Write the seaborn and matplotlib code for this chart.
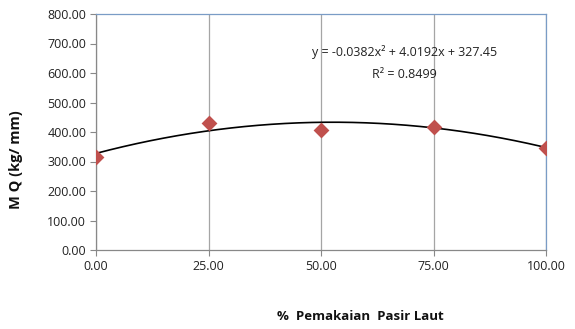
import numpy as np
import pandas as pd
import matplotlib
matplotlib.use("Agg")
import matplotlib.pyplot as plt
import seaborn as sns

# Measured values
pasir_laut = [0, 25, 50, 75, 100]
mq = [315, 432, 407, 417, 347]

# Polynomial trendline coefficients (a*x^2 + b*x + c) and fit quality
trend_coef = [-0.0382, 4.0192, 327.45]
r_squared = 0.8499

x_ticks = [0, 25, 50, 75, 100]
y_ticks = [0, 100, 200, 300, 400, 500, 600, 700, 800]

sns.set_theme(style="white")
plt.rcParams["font.family"] = ["Open Sans", "DejaVu Sans"]

fig = plt.figure(figsize=(5.75, 3.29), dpi=100)
ax = fig.add_axes([96 / 575, 1 - 250 / 329, 450 / 575, 236 / 329])

df = pd.DataFrame({"x": pasir_laut, "y": mq})
xs = np.linspace(0, 100, 201)
trend = pd.DataFrame({"x": xs, "y": np.polyval(trend_coef, xs)})

sns.lineplot(data=trend, x="x", y="y", ax=ax, color="black", linewidth=1.2, zorder=3)
sns.scatterplot(data=df, x="x", y="y", ax=ax, marker="D", s=65,
                color="#c0504d", edgecolor="#c0504d", linewidth=0, zorder=4)

ax.set_xlim(0, 100)
ax.set_ylim(0, 800)
ax.set_xticks(x_ticks)
ax.set_yticks(y_ticks)
ax.set_xticklabels([f"{v:.2f}" for v in x_ticks])
ax.set_yticklabels([f"{v:.2f}" for v in y_ticks])
ax.tick_params(axis="both", labelsize=9, colors="#222222", length=4,
               width=0.8, direction="out", pad=3)
ax.tick_params(axis="both", color="#888888")
ax.xaxis.set_ticks_position("bottom")
ax.yaxis.set_ticks_position("left")

ax.grid(axis="x", color="#a5a5a5", linewidth=0.9)
ax.grid(axis="y", visible=False)

for side in ("left", "bottom"):
    ax.spines[side].set_color("#888888")
    ax.spines[side].set_linewidth(0.9)
for side in ("top", "right"):
    ax.spines[side].set_color("#7a9cc6")
    ax.spines[side].set_linewidth(0.9)

ax.set_xlabel("")
ax.set_ylabel("")

fig.text(16 / 575, 1 - 160 / 329, "M Q (kg/ mm)", rotation=90,
         ha="center", va="center", fontsize=10.5, fontweight="bold", color="#111111")
fig.text(360 / 575, 1 - 317 / 329, "%  Pemakaian  Pasir Laut",
         ha="center", va="center", fontsize=9.5, fontweight="bold", color="#111111")

a, b, c = trend_coef
ax.text(0.685, 0.84, f"y = {a}x² + {b}x + {c}", transform=ax.transAxes,
        ha="center", va="center", fontsize=9, color="#222222")
ax.text(0.685, 0.745, f"R² = {r_squared}", transform=ax.transAxes,
        ha="center", va="center", fontsize=9, color="#222222")

fig.savefig("out.png", dpi=100)
